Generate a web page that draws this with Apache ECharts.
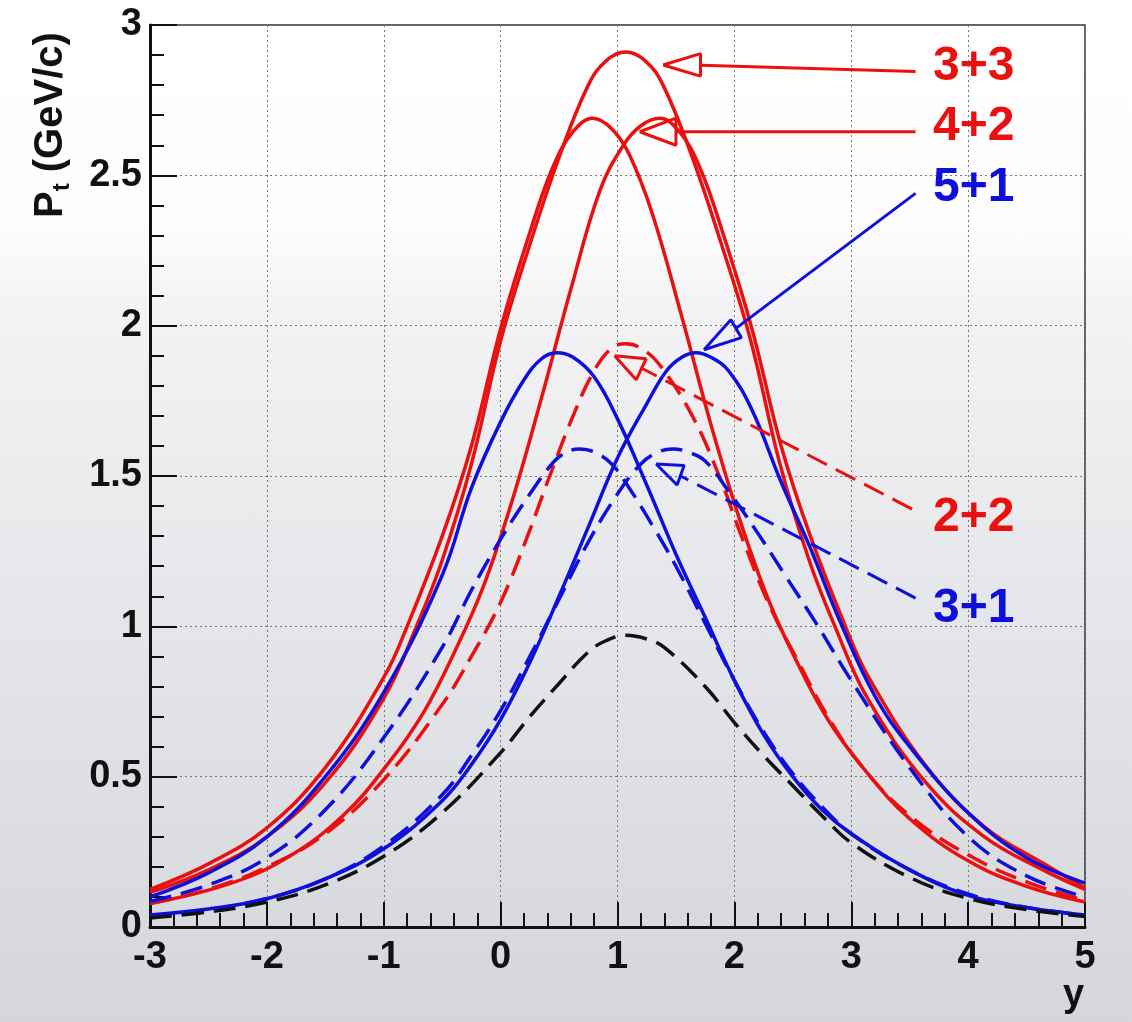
<!DOCTYPE html>
<html>
<head>
<meta charset="utf-8">
<script src="https://cdn.jsdelivr.net/npm/echarts@6/dist/echarts.min.js"></script>
<style>
  html, body { margin: 0; padding: 0; }
  body {
    background: linear-gradient(to bottom, #ffffff 0%, #fdfdfd 22%, #f3f3f5 30%, #e5e6e9 60%, #d4d6db 100%);
  }
  #chart { width: 1132px; height: 1022px; }
</style>
</head>
<body>
<div id="chart"></div>
<script>
// [rapidity, Pt] points, one list per curve
const pt33 = [[-3, 0.115], [-2.5, 0.19], [-2, 0.30], [-1.5, 0.48], [-1, 0.76], [-0.72, 1.0], [-0.5, 1.22], [-0.25, 1.54], [0, 1.95], [0.25, 2.27], [0.5, 2.56], [0.75, 2.80], [0.9, 2.88], [1.07, 2.91], [1.24, 2.88], [1.39, 2.80], [1.64, 2.56], [1.89, 2.27], [2.14, 1.95], [2.39, 1.54], [2.64, 1.22], [2.86, 1.0], [3.14, 0.76], [3.64, 0.48], [4.14, 0.30], [4.64, 0.19], [5, 0.125]];
const pt42a = [[-3, 0.125], [-2.5, 0.21], [-2, 0.33], [-1.5, 0.53], [-1, 0.83], [-0.8, 1.0], [-0.5, 1.30], [-0.25, 1.60], [0, 1.99], [0.25, 2.31], [0.45, 2.53], [0.62, 2.645], [0.79, 2.69], [0.95, 2.655], [1.1, 2.57], [1.3, 2.37], [1.55, 2.03], [1.8, 1.67], [2.05, 1.35], [2.3, 1.08], [2.55, 0.87], [2.8, 0.69], [3.1, 0.53], [3.5, 0.36], [4, 0.22], [4.5, 0.135], [5, 0.083]];
const pt42b = [[-3, 0.078], [-2.35, 0.14], [-1.85, 0.225], [-1.35, 0.37], [-0.95, 0.55], [-0.65, 0.72], [-0.4, 0.91], [-0.15, 1.13], [0.1, 1.42], [0.35, 1.76], [0.6, 2.12], [0.85, 2.45], [1.05, 2.60], [1.2, 2.665], [1.36, 2.69], [1.53, 2.645], [1.7, 2.53], [1.9, 2.31], [2.15, 1.99], [2.4, 1.60], [2.65, 1.30], [2.95, 1.0], [3.15, 0.83], [3.65, 0.53], [4.15, 0.33], [4.65, 0.21], [5, 0.13]];
const pt51a = [[-3, 0.10], [-2.5, 0.18], [-2, 0.30], [-1.5, 0.50], [-1, 0.78], [-0.5, 1.17], [-0.25, 1.46], [0, 1.68], [0.2, 1.82], [0.35, 1.89], [0.48, 1.91], [0.62, 1.895], [0.8, 1.83], [1, 1.69], [1.25, 1.47], [1.5, 1.24], [1.75, 1.03], [2, 0.82], [2.25, 0.64], [2.5, 0.50], [2.75, 0.39], [3, 0.31], [3.5, 0.19], [4, 0.105], [4.5, 0.065], [5, 0.04]];
const pt51b = [[-3, 0.04], [-2.5, 0.06], [-2, 0.094], [-1.5, 0.16], [-1, 0.26], [-0.5, 0.42], [-0.25, 0.54], [0, 0.69], [0.25, 0.88], [0.5, 1.10], [0.75, 1.33], [1, 1.56], [1.25, 1.74], [1.42, 1.85], [1.55, 1.895], [1.67, 1.91], [1.8, 1.895], [1.95, 1.85], [2.15, 1.72], [2.4, 1.48], [2.65, 1.26], [2.9, 1.02], [3.2, 0.77], [3.5, 0.60], [4, 0.38], [4.5, 0.23], [5, 0.146]];
const pt22 = [[-3, 0.078], [-2.5, 0.125], [-2, 0.20], [-1.5, 0.31], [-1, 0.49], [-0.5, 0.74], [-0.25, 0.90], [0, 1.08], [0.22, 1.29], [0.42, 1.50], [0.62, 1.70], [0.8, 1.85], [0.95, 1.925], [1.07, 1.94], [1.2, 1.925], [1.36, 1.87], [1.64, 1.70], [1.87, 1.50], [2.07, 1.29], [2.3, 1.07], [2.55, 0.88], [2.8, 0.70], [3.1, 0.53], [3.5, 0.37], [4, 0.24], [4.5, 0.15], [5, 0.088]];
const pt31a = [[-3, 0.085], [-2.5, 0.14], [-2, 0.23], [-1.5, 0.39], [-1, 0.63], [-0.5, 0.93], [-0.25, 1.12], [0, 1.29], [0.25, 1.44], [0.45, 1.545], [0.56, 1.578], [0.67, 1.59], [0.8, 1.58], [0.95, 1.54], [1.1, 1.46], [1.3, 1.335], [1.5, 1.20], [1.75, 1.01], [2, 0.82], [2.25, 0.65], [2.5, 0.51], [2.75, 0.40], [3, 0.31], [3.5, 0.19], [4, 0.11], [4.5, 0.065], [5, 0.04]];
const pt31b = [[-3, 0.038], [-2.5, 0.058], [-2, 0.095], [-1.5, 0.16], [-1, 0.27], [-0.5, 0.44], [-0.25, 0.57], [0, 0.72], [0.25, 0.90], [0.5, 1.09], [0.75, 1.28], [1, 1.44], [1.2, 1.54], [1.35, 1.58], [1.47, 1.59], [1.6, 1.58], [1.75, 1.55], [1.95, 1.45], [2.2, 1.31], [2.45, 1.16], [2.7, 1.01], [3, 0.82], [3.5, 0.53], [4, 0.30], [4.5, 0.17], [5, 0.10]];
const ptRef = [[-3, 0.03], [-2.5, 0.05], [-2, 0.083], [-1.5, 0.14], [-1, 0.235], [-0.5, 0.38], [0, 0.58], [0.25, 0.70], [0.5, 0.81], [0.75, 0.915], [0.9, 0.952], [1.07, 0.97], [1.25, 0.958], [1.4, 0.93], [1.75, 0.80], [2, 0.68], [2.25, 0.57], [2.5, 0.47], [2.75, 0.37], [3, 0.28], [3.5, 0.165], [4, 0.095], [4.5, 0.058], [5, 0.035]];

// annotation labels and their arrows (data coordinates)
const tagNames = ['3+3', '4+2', '5+1', '2+2', '3+1'];
const tagX = 3.70;
const tagY = [2.86, 2.66, 2.46, 1.36, 1.06];
const shaft33 = [[3.55, 2.845], [1.71, 2.866]];
const head33  = [[1.39, 2.867], [1.71, 2.905], [1.71, 2.83], [1.39, 2.867]];
const shaft42 = [[3.55, 2.645], [1.50, 2.645]];
const head42  = [[1.19, 2.645], [1.50, 2.69], [1.50, 2.60], [1.19, 2.645]];
const shaft51 = [[3.55, 2.44], [2.01, 1.99]];
const head51  = [[1.74, 1.92], [1.97, 2.02], [2.06, 1.96], [1.74, 1.92]];
const shaft22 = [[3.52, 1.39], [1.20, 1.86]];
const head22  = [[0.975, 1.90], [1.245, 1.89], [1.16, 1.82], [0.975, 1.90]];
const shaft31 = [[3.55, 1.094], [1.54, 1.50]];
const head31  = [[1.33, 1.54], [1.57, 1.535], [1.51, 1.47], [1.33, 1.54]];

const RED = '#ea1010';
const BLUE = '#0f0fdc';
const BLACK = '#111111';
const FONT = '"Liberation Sans", Arial, Helvetica, sans-serif';

const curve = (name, pts, color, dashed) => ({
  name: name,
  type: 'line',
  data: pts,
  smooth: 0.4,
  showSymbol: false,
  symbol: 'none',
  silent: true,
  lineStyle: { color: color, width: 3.5, type: dashed ? [22, 10] : 'solid' },
});

const mark = (pts, color, dashed) => ({
  type: 'line',
  data: pts,
  symbol: 'none',
  silent: true,
  lineStyle: { color: color, width: 3, type: dashed ? [22, 10] : 'solid' },
});

const tagColors = [RED, RED, BLUE, RED, BLUE];

const chart = echarts.init(document.getElementById('chart'), null, { renderer: 'canvas' });

const option = {
  animation: false,
  backgroundColor: 'transparent',
  grid: {
    left: 150, right: 47, top: 25, bottom: 95,
    containLabel: false,
    outerBoundsMode: 'none',
    show: true,
    borderColor: '#333',
    borderWidth: 1.5,
    backgroundColor: 'transparent',
  },
  xAxis: {
    type: 'value',
    min: -3, max: 5, interval: 1,
    axisLine: { show: true, onZero: false, lineStyle: { color: BLACK, width: 3 } },
    axisTick: { show: true, inside: true, length: 25, lineStyle: { color: BLACK, width: 2 } },
    minorTick: { show: true, splitNumber: 5, length: 14, lineStyle: { color: BLACK, width: 2 } },
    splitLine: { show: true, lineStyle: { color: '#777', width: 1, type: [2, 3] } },
    axisLabel: { color: BLACK, fontSize: 38, fontWeight: 'bold', fontFamily: FONT, margin: 12 },
    name: 'y',
    nameLocation: 'end',
    nameGap: -22,
    nameTextStyle: {
      color: BLACK, fontSize: 38, fontWeight: 'bold', fontFamily: FONT,
      verticalAlign: 'top', padding: [50, 0, 0, 0],
    },
  },
  yAxis: {
    type: 'value',
    min: 0, max: 3, interval: 0.5,
    axisLine: { show: true, onZero: false, lineStyle: { color: BLACK, width: 3 } },
    axisTick: { show: true, inside: true, length: 27, lineStyle: { color: BLACK, width: 2 } },
    minorTick: { show: true, splitNumber: 5, length: 14, lineStyle: { color: BLACK, width: 2 } },
    splitLine: { show: true, lineStyle: { color: '#777', width: 1, type: [2, 3] } },
    axisLabel: { color: BLACK, fontSize: 38, fontWeight: 'bold', fontFamily: FONT, margin: 8 },
  },
  graphic: [{
    type: 'text',
    x: 51, y: 218,
    rotation: Math.PI / 2,
    style: {
      text: '{a|P}{b|t}{a| (GeV/c)}',
      align: 'left',
      verticalAlign: 'middle',
      rich: {
        a: { fontSize: 40, fontWeight: 'bold', fontFamily: FONT, fill: BLACK, lineHeight: 46 },
        b: { fontSize: 24, fontWeight: 'bold', fontFamily: FONT, fill: BLACK, lineHeight: 20, verticalAlign: 'bottom' },
      },
    },
  }],
  series: [
    curve('3+3', pt33, RED, false),
    curve('4+2 a', pt42a, RED, false),
    curve('4+2 b', pt42b, RED, false),
    curve('2+2', pt22, RED, true),
    curve('5+1 a', pt51a, BLUE, false),
    curve('5+1 b', pt51b, BLUE, false),
    curve('3+1 a', pt31a, BLUE, true),
    curve('3+1 b', pt31b, BLUE, true),
    curve('ref', ptRef, BLACK, true),
    mark(shaft33, RED, false), mark(head33, RED, false),
    mark(shaft42, RED, false), mark(head42, RED, false),
    mark(shaft51, BLUE, false), mark(head51, BLUE, false),
    mark(shaft22, RED, true), mark(head22, RED, false),
    mark(shaft31, BLUE, true), mark(head31, BLUE, false),
    {
      type: 'scatter',
      symbolSize: 0,
      silent: true,
      itemStyle: { opacity: 1 },
      data: tagNames.map((n, i) => ({
        value: [tagX, tagY[i]],
        name: n,
        label: { color: tagColors[i] },
      })),
      label: {
        show: true,
        position: 'right',
        distance: 0,
        opacity: 1,
        formatter: (p) => p.name,
        fontSize: 48,
        fontWeight: 'bold',
        fontFamily: FONT,
      },
    },
  ],
};

chart.setOption(option);
</script>
</body>
</html>
